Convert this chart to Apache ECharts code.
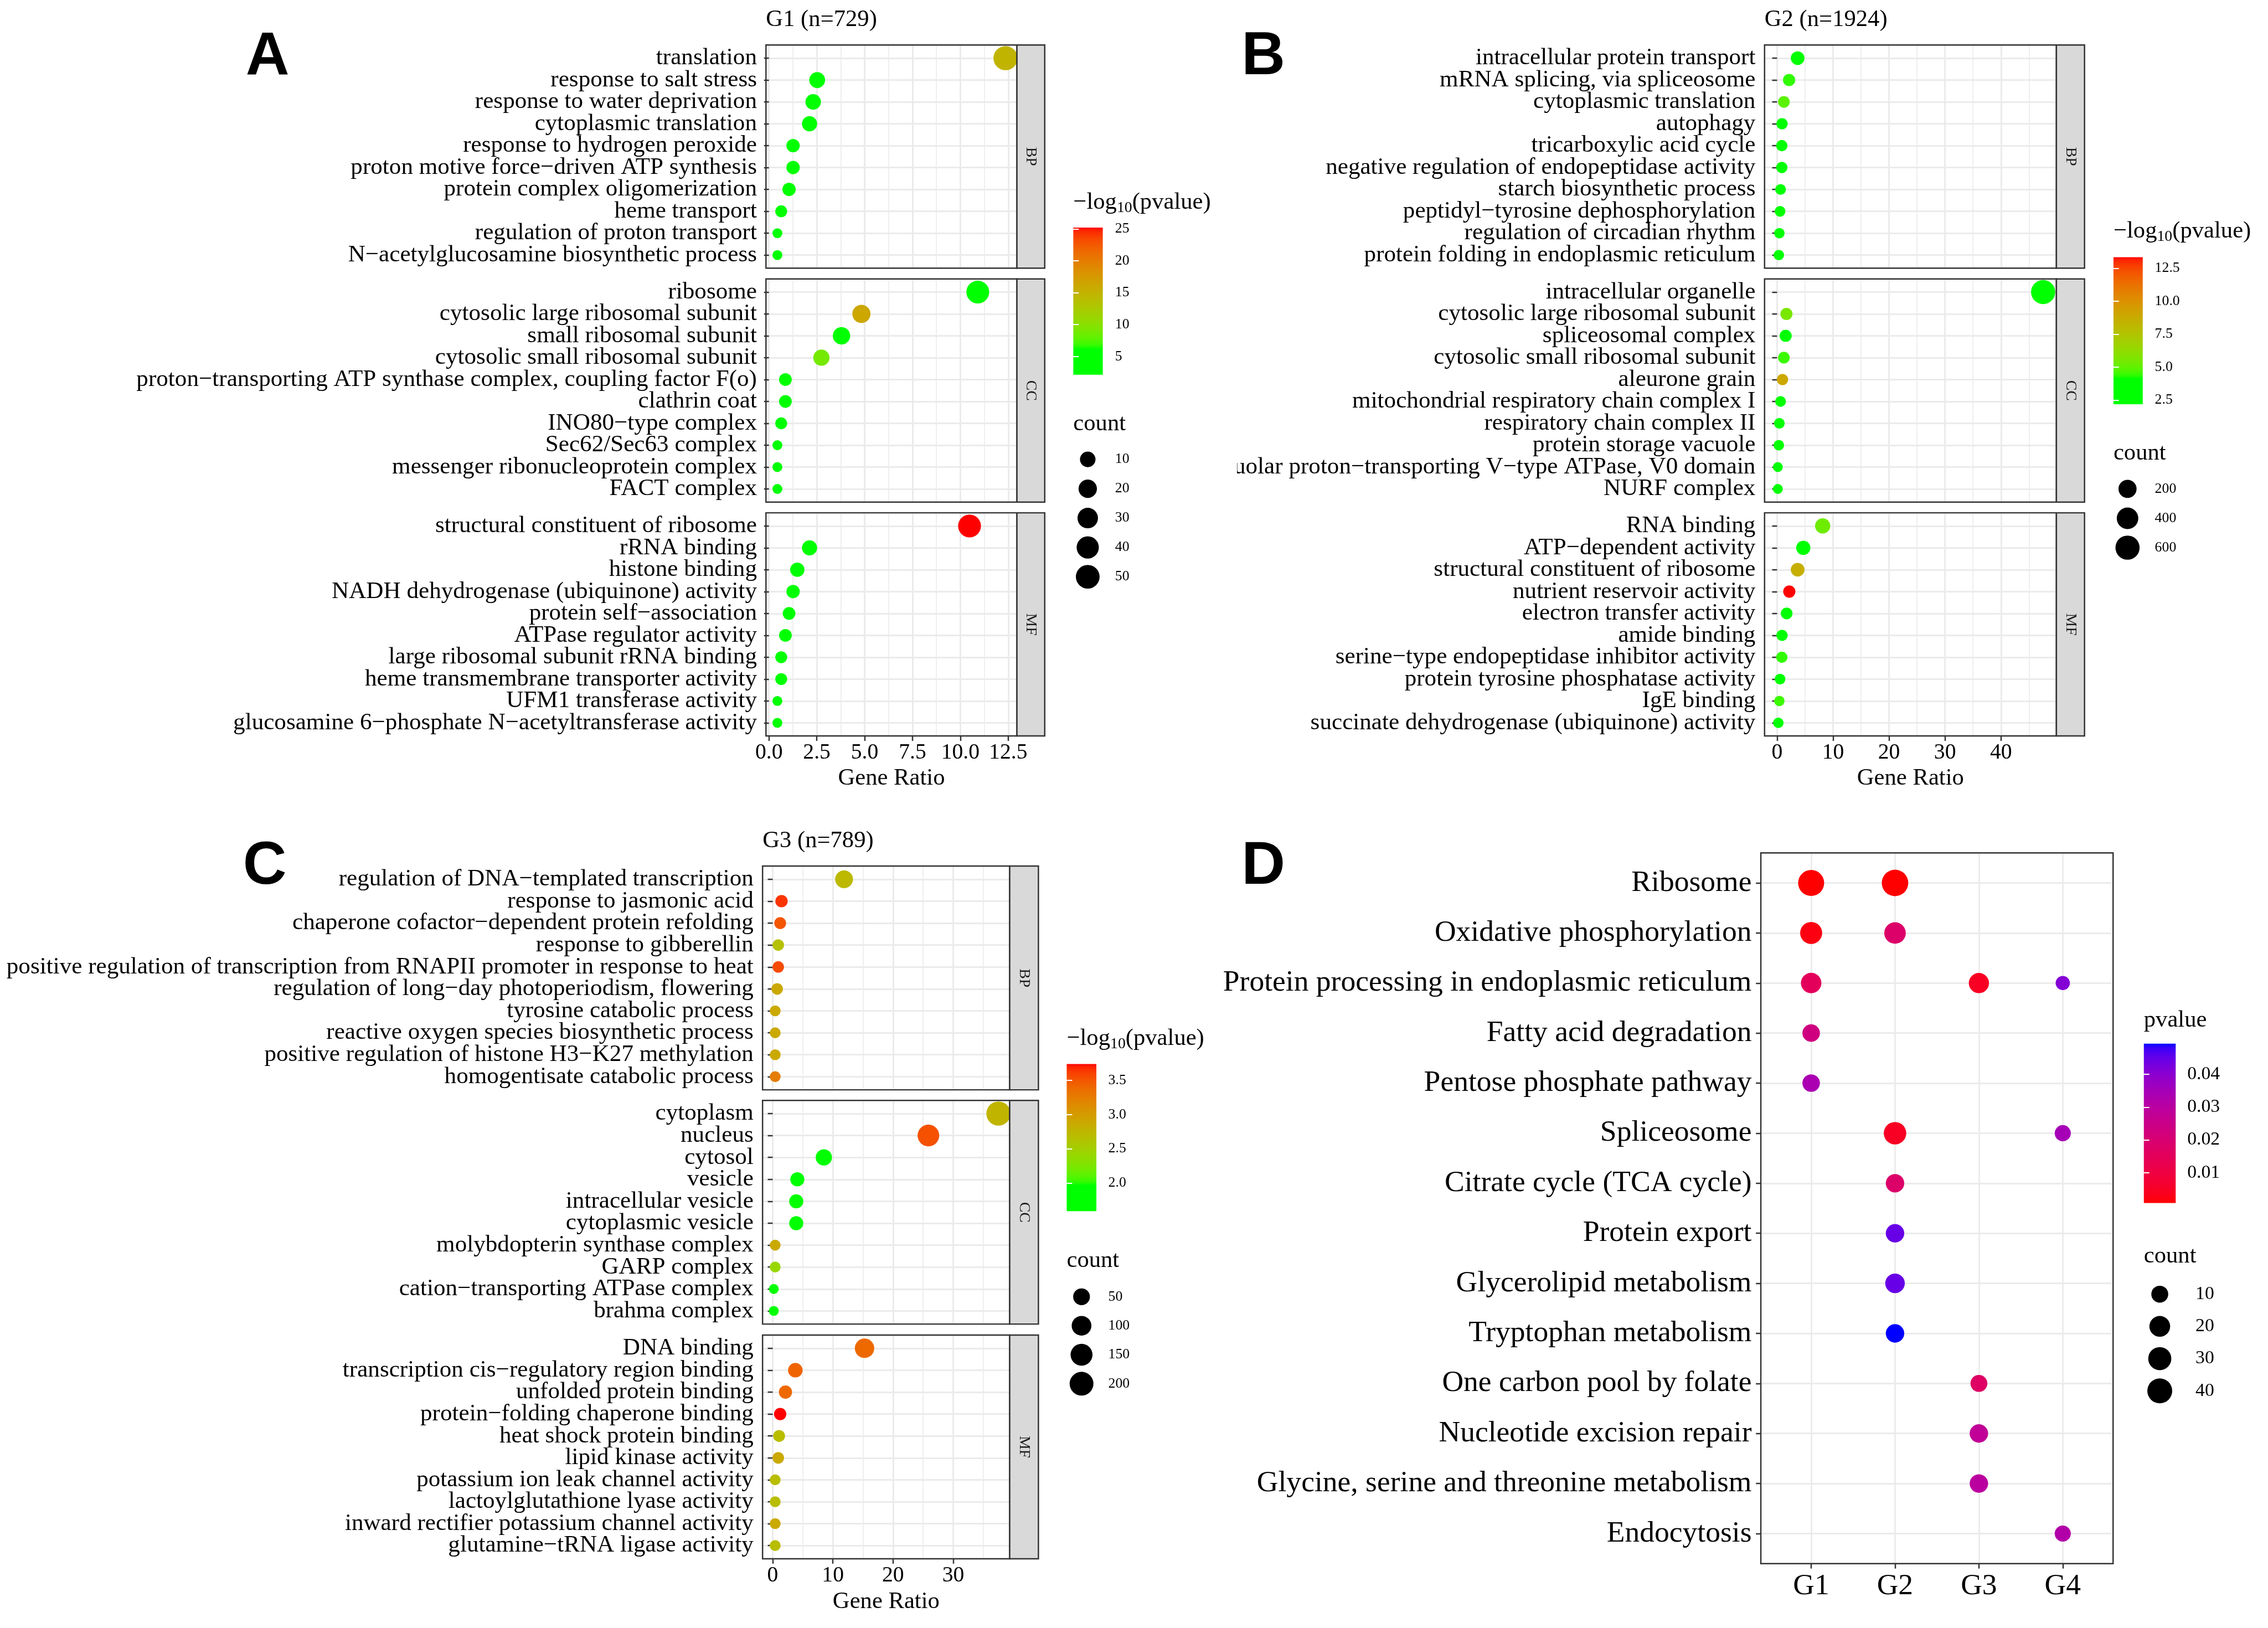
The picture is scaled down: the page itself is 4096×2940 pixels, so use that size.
<!DOCTYPE html>
<html>
<head>
<meta charset="utf-8">
<title>GO / KEGG enrichment bubble charts</title>
<script src="https://cdn.jsdelivr.net/npm/echarts@6.0.0/dist/echarts.min.js"></script>
<style>
html,body{margin:0;padding:0;background:#ffffff;}
#chart{width:4096px;height:2940px;}
</style>
</head>
<body>
<div id="chart"></div>
<script>
// ======================= DATA =======================
// ---- Panel A : G1 ----
const A_title = "G1 (n=729)";
const A_BP_terms = ["translation","response to salt stress","response to water deprivation","cytoplasmic translation","response to hydrogen peroxide","proton motive force−driven ATP synthesis","protein complex oligomerization","heme transport","regulation of proton transport","N−acetylglucosamine biosynthetic process"];
const A_BP_ratio = [12.36, 2.52, 2.31, 2.12, 1.26, 1.26, 1.05, 0.64, 0.44, 0.44];
const A_BP_count = [53, 11, 10, 9, 5, 5, 5, 3, 2, 2];
const A_BP_logp  = [14.8, 4.5, 4.2, 3.8, 3.5, 3.6, 3.2, 2.9, 2.5, 2.3];

const A_CC_terms = ["ribosome","cytosolic large ribosomal subunit","small ribosomal subunit","cytosolic small ribosomal subunit","proton−transporting ATP synthase complex, coupling factor F(o)","clathrin coat","INO80−type complex","Sec62/Sec63 complex","messenger ribonucleoprotein complex","FACT complex"];
const A_CC_ratio = [10.91, 4.83, 3.79, 2.74, 0.86, 0.86, 0.64, 0.44, 0.44, 0.44];
const A_CC_count = [44, 19, 16, 12, 4, 4, 3, 2, 2, 2];
const A_CC_logp  = [5.2, 16.1, 5.8, 8.9, 3.4, 3.3, 3.0, 2.6, 2.4, 2.2];

const A_MF_terms = ["structural constituent of ribosome","rRNA binding","histone binding","NADH dehydrogenase (ubiquinone) activity","protein self−association","ATPase regulator activity","large ribosomal subunit rRNA binding","heme transmembrane transporter activity","UFM1 transferase activity","glucosamine 6−phosphate N−acetyltransferase activity"];
const A_MF_ratio = [10.48, 2.12, 1.48, 1.26, 1.05, 0.86, 0.64, 0.64, 0.44, 0.44];
const A_MF_count = [44, 9, 7, 5, 4, 4, 3, 3, 2, 2];
const A_MF_logp  = [25.2, 4.9, 4.4, 4.0, 3.7, 3.3, 2.9, 2.7, 2.14, 2.3];

const A_color_ticks = [5, 10, 15, 20, 25];
const A_size_breaks = [10, 20, 30, 40, 50];
const A_x_ticks = [0, 2.5, 5, 7.5, 10, 12.5];

// ---- Panel B : G2 ----
const B_title = "G2 (n=1924)";
const B_BP_terms = ["intracellular protein transport","mRNA splicing, via spliceosome","cytoplasmic translation","autophagy","tricarboxylic acid cycle","negative regulation of endopeptidase activity","starch biosynthetic process","peptidyl−tyrosine dephosphorylation","regulation of circadian rhythm","protein folding in endoplasmic reticulum"];
const B_BP_ratio = [3.67, 2.14, 1.22, 0.88, 0.84, 0.84, 0.62, 0.53, 0.40, 0.31];
const B_BP_count = [48, 21, 15, 11, 11, 11, 7, 7, 6, 6];
const B_BP_logp  = [3.9, 4.4, 4.93, 3.6, 3.4, 3.3, 3.1, 2.9, 2.7, 2.6];

const B_CC_terms = ["intracellular organelle","cytosolic large ribosomal subunit","spliceosomal complex","cytosolic small ribosomal subunit","aleurone grain","mitochondrial respiratory chain complex I","respiratory chain complex II","protein storage vacuole","vacuolar proton−transporting V−type ATPase, V0 domain","NURF complex"];
const B_CC_ratio = [47.53, 1.67, 1.53, 1.22, 0.96, 0.62, 0.40, 0.31, 0.13, 0.13];
const B_CC_count = [600, 19, 19, 15, 11, 7, 7, 6, 5, 5];
const B_CC_logp  = [3.8, 5.57, 3.7, 4.5, 8.95, 3.2, 3.0, 2.8, 2.4, 2.19];

const B_MF_terms = ["RNA binding","ATP−dependent activity","structural constituent of ribosome","nutrient reservoir activity","electron transfer activity","amide binding","serine−type endopeptidase inhibitor activity","protein tyrosine phosphatase activity","IgE binding","succinate dehydrogenase (ubiquinone) activity"];
const B_MF_ratio = [8.14, 4.68, 3.67, 2.18, 1.71, 0.88, 0.84, 0.53, 0.40, 0.22];
const B_MF_count = [88, 60, 48, 21, 15, 11, 11, 7, 6, 6];
const B_MF_logp  = [5.3, 3.9, 8.59, 13.34, 3.6, 3.4, 4.4, 3.1, 4.5, 2.9];

const B_color_ticks = [2.5, 5.0, 7.5, 10.0, 12.5];
const B_size_breaks = [200, 400, 600];
const B_x_ticks = [0, 10, 20, 30, 40];

// ---- Panel C : G3 ----
const C_title = "G3 (n=789)";
const C_BP_terms = ["regulation of DNA−templated transcription","response to jasmonic acid","chaperone cofactor−dependent protein refolding","response to gibberellin","positive regulation of transcription from RNAPII promoter in response to heat","regulation of long−day photoperiodism, flowering","tyrosine catabolic process","reactive oxygen species biosynthetic process","positive regulation of histone H3−K27 methylation","homogentisate catabolic process"];
const C_BP_ratio = [11.86, 1.46, 1.24, 0.92, 0.92, 0.74, 0.41, 0.41, 0.41, 0.41];
const C_BP_count = [66, 8, 6, 5, 5, 5, 3, 3, 3, 3];
const C_BP_logp  = [2.72, 3.65, 3.51, 2.65, 3.56, 2.89, 2.88, 2.88, 2.88, 3.25];

const C_CC_terms = ["cytoplasm","nucleus","cytosol","vesicle","intracellular vesicle","cytoplasmic vesicle","molybdopterin synthase complex","GARP complex","cation−transporting ATPase complex","brahma complex"];
const C_CC_ratio = [37.52, 25.88, 8.50, 4.09, 3.91, 3.91, 0.41, 0.41, 0.18, 0.18];
const C_CC_count = [210, 143, 44, 20, 20, 20, 3, 3, 2, 2];
const C_CC_logp  = [2.77, 3.53, 1.90, 1.85, 1.80, 1.80, 2.88, 2.42, 1.59, 1.65];

const C_MF_terms = ["DNA binding","transcription cis−regulatory region binding","unfolded protein binding","protein−folding chaperone binding","heat shock protein binding","lipid kinase activity","potassium ion leak channel activity","lactoylglutathione lyase activity","inward rectifier potassium channel activity","glutamine−tRNA ligase activity"];
const C_MF_ratio = [15.26, 3.76, 2.12, 1.24, 1.06, 0.92, 0.41, 0.41, 0.41, 0.41];
const C_MF_count = [95, 24, 13, 8, 6, 5, 3, 3, 3, 3];
const C_MF_logp  = [3.39, 3.42, 3.39, 3.74, 2.68, 2.88, 2.68, 2.68, 2.88, 2.68];

const C_color_ticks = [2.0, 2.5, 3.0, 3.5];
const C_size_breaks = [50, 100, 150, 200];
const C_x_ticks = [0, 10, 20, 30];

// ---- Panel D : KEGG ----
const D_terms = ["Ribosome","Oxidative phosphorylation","Protein processing in endoplasmic reticulum","Fatty acid degradation","Pentose phosphate pathway","Spliceosome","Citrate cycle (TCA cycle)","Protein export","Glycerolipid metabolism","Tryptophan metabolism","One carbon pool by folate","Nucleotide excision repair","Glycine, serine and threonine metabolism","Endocytosis"];
const D_groups = ["G1","G2","G3","G4"];
const D_pt_term  = [0, 0, 1, 1, 2, 2, 2, 3, 4, 5, 5, 6, 7, 8, 9, 10, 11, 12, 13];
const D_pt_group = [0, 1, 0, 1, 0, 2, 3, 0, 0, 1, 3, 1, 1, 1, 1, 2, 2, 2, 3];
const D_pt_count = [47, 50, 25, 23, 19, 18, 8, 11, 11, 27, 9, 13, 13, 16, 13, 10, 13, 13, 9];
const D_pt_pvalue = [0.0008, 0.0009, 0.0023, 0.0183, 0.0154, 0.0047, 0.0411, 0.0231, 0.0338, 0.0047, 0.0348, 0.0183, 0.0445, 0.0445, 0.0493, 0.0173, 0.0280, 0.0299, 0.0318];
const D_color_ticks = [0.01, 0.02, 0.03, 0.04];
const D_size_breaks = [10, 20, 30, 40];

// ======================= HELPERS =======================
const S = 0.992;
const px = v => v * S;
const SERIF = "'Liberation Serif','Times New Roman',Times,serif";
const SANS = "'Liberation Sans',Arial,Helvetica,sans-serif";
const LABEL_FS = 43.5;

function s2l(c){c/=255;return c<=0.04045?c/12.92:Math.pow((c+0.055)/1.055,2.4);}
function l2s(v){v=Math.max(0,Math.min(1,v));const s=v<=0.0031308?12.92*v:1.055*Math.pow(v,1/2.4)-0.055;return Math.round(Math.max(0,Math.min(1,s))*255);}
function rgb2lab(c){const R=s2l(c[0]),G=s2l(c[1]),B=s2l(c[2]);
  const X=(0.4124*R+0.3576*G+0.1805*B)/0.95047,Y=0.2126*R+0.7152*G+0.0722*B,Z=(0.0193*R+0.1192*G+0.9505*B)/1.08883;
  const f=t=>t>0.008856?Math.cbrt(t):7.787*t+16/116;const fx=f(X),fy=f(Y),fz=f(Z);
  return [116*fy-16,500*(fx-fy),200*(fy-fz)];}
function lab2rgb(l){const fy=(l[0]+16)/116,fx=fy+l[1]/500,fz=fy-l[2]/200;
  const fi=t=>t>0.206893?t*t*t:(t-16/116)/7.787;
  const X=0.95047*fi(fx),Y=fi(fy),Z=1.08883*fi(fz);
  return [l2s(3.2406*X-1.5372*Y-0.4986*Z),l2s(-0.9689*X+1.8758*Y+0.0415*Z),l2s(0.0557*X-0.2040*Y+1.0570*Z)];}
function mixLab(c1,c2,t){const a=rgb2lab(c1),b=rgb2lab(c2);return lab2rgb([a[0]+(b[0]-a[0])*t,a[1]+(b[1]-a[1])*t,a[2]+(b[2]-a[2])*t]);}
const rgbStr=c=>`rgb(${c[0]},${c[1]},${c[2]})`;
const GREEN=[0,255,0],RED=[255,0,0],BLUE=[0,0,255];
const FLAT=0.18;
function goColor(t){t=Math.max(0,Math.min(1,t));if(t<=FLAT)return rgbStr(GREEN);return rgbStr(mixLab(GREEN,RED,(t-FLAT)/(1-FLAT)));}
function keggColor(t){t=Math.max(0,Math.min(1,t));return rgbStr(mixLab(RED,BLUE,t));}
function sizeScale(counts,dmin,dmax){const lo=Math.min(...counts),hi=Math.max(...counts);
  return c=>px(dmin+(dmax-dmin)*Math.sqrt(Math.max(0,Math.min(1.05,(c-lo)/(hi-lo)))));}

const grids=[],xAxes=[],yAxes=[],series=[],graphics=[];

function addText(x,y,text,o){o=o||{};
  const el={type:'text',x:px(x),y:px(y),z:50,rotation:o.rot||0,silent:true,
    style:{text:text,fill:o.color||'#000',fontSize:px(o.size||43),fontFamily:o.family||SERIF,fontWeight:o.weight||'normal',
      textAlign:o.align||'left',textVerticalAlign:o.va||'middle',align:o.align||'left',verticalAlign:o.va||'middle'}};
  if(o.rich)el.style.rich=o.rich;
  graphics.push(el);}
function addRect(x,y,w,h,o){graphics.push({type:'rect',x:px(x),y:px(y),z:o.z||40,silent:true,
  shape:{x:0,y:0,width:px(w),height:px(h)},style:{fill:o.fill||'none',stroke:o.stroke||'none',lineWidth:o.lw?px(o.lw):0}});}

function colorbar(o){
  const gi=grids.length;
  grids.push({left:px(o.x0),top:px(o.y0),width:px(o.x1-o.x0),height:px(o.y1-o.y0)});
  const xi=xAxes.length;
  xAxes.push({gridIndex:gi,type:'value',min:0,max:1,show:false});
  const yi=yAxes.length;
  const tickStyle={show:true,inside:true,length:px(10),lineStyle:{color:'#ffffff',width:px(2)},customValues:o.ticks};
  yAxes.push({gridIndex:gi,type:'value',min:o.vmin,max:o.vmax,position:'right',z:5,
    axisLine:{show:false},splitLine:{show:false},axisTick:tickStyle,
    axisLabel:{show:true,showMinLabel:true,showMaxLabel:true,customValues:o.ticks,formatter:o.fmt,margin:px(o.labelX-o.x1),fontFamily:SERIF,fontSize:px(o.fs||26),color:'#000'}});
  yAxes.push({gridIndex:gi,type:'value',min:o.vmin,max:o.vmax,position:'left',z:5,
    axisLine:{show:false},splitLine:{show:false},axisTick:tickStyle,axisLabel:{show:false}});
  const stops=[];for(let i=0;i<=80;i++){const t=i/80;stops.push({offset:t,color:o.colorFn(o.vmax-(o.vmax-o.vmin)*t)});}
  series.push({type:'custom',xAxisIndex:xi,yAxisIndex:yi,data:[[0,o.vmin]],z:2,silent:true,
    renderItem:(params,api)=>{const p0=api.coord([0,o.vmax]),p1=api.coord([1,o.vmin]);
      return {type:'rect',shape:{x:p0[0],y:p0[1],width:p1[0]-p0[0],height:p1[1]-p0[1]},
        style:{fill:{type:'linear',x:0,y:0,x2:0,y2:1,colorStops:stops}}};}});
}

function sizeLegend(o){
  const n=o.breaks.length,sp=(o.ys[n-1]-o.ys[0])/(n-1),half=40;
  const gi=grids.length;
  grids.push({left:px(o.cx-half),width:px(2*half),top:px(o.ys[0]-sp/2),height:px(sp*n)});
  const xi=xAxes.length;xAxes.push({gridIndex:gi,type:'value',min:0,max:1,show:false});
  const yi=yAxes.length;
  yAxes.push({gridIndex:gi,type:'category',inverse:true,data:o.breaks.map(String),position:'right',
    axisLine:{show:false},axisTick:{show:false},splitLine:{show:false},
    axisLabel:{interval:0,showMinLabel:true,showMaxLabel:true,margin:px(o.labelX-o.cx-half),fontFamily:SERIF,fontSize:px(o.fs||26),color:'#000'}});
  series.push({type:'scatter',xAxisIndex:xi,yAxisIndex:yi,silent:true,
    data:o.breaks.map((b,i)=>[0.5,i,b]),symbolSize:v=>o.sizeFn(v[2]),itemStyle:{color:'#000',opacity:1}});
}

// category labels are split over two co-located axes (odd / even rows) so none get dropped for overlap
function termAxes(gi,terms,fs,margin){
  const n=terms.length,all=terms.map((t,i)=>i+1);
  const odd=all.filter(v=>v%2===1),even=all.filter(v=>v%2===0);
  const base={gridIndex:gi,type:'value',inverse:true,min:0.4,max:n+0.6,position:'left',offset:0,axisLine:{show:false}};
  const lab=vals=>({showMinLabel:true,showMaxLabel:true,hideOverlap:false,customValues:vals,formatter:v=>terms[Math.round(v)-1],
        fontFamily:SERIF,fontSize:px(fs),color:'#000',margin:px(margin)});
  const yi=yAxes.length;
  yAxes.push(Object.assign({},base,{
    axisTick:{show:true,length:px(9),lineStyle:{color:'#333333',width:px(2.5)},customValues:all},
    axisLabel:lab(odd),
    splitLine:{show:true,lineStyle:{color:'#ebebeb',width:px(3)}}}));
  yAxes.push(Object.assign({},base,{
    axisTick:{show:false,customValues:even},axisLabel:lab(even),splitLine:{show:false}}));
  return yi;
}

function goPanel(P){
  const allR=[].concat(...P.facets.map(f=>f.ratio));
  const lo=Math.min(...allR),hi=Math.max(...allR),pad=(hi-lo)*0.05;
  const xmin=lo-pad,xmax=hi+pad;
  const allC=[].concat(...P.facets.map(f=>f.count));
  const size=sizeScale(allC,18,44);
  const allV=[].concat(...P.facets.map(f=>f.logp));
  const vmin=Math.min(...allV),vmax=Math.max(...allV);
  const color=v=>goColor((v-vmin)/(vmax-vmin));
  const step=P.majors[1]-P.majors[0];
  const minors=[P.majors[0]-step/2].concat(P.majors.map(m=>m+step/2)).filter(v=>v>xmin&&v<xmax);
  P.facets.forEach((f,k)=>{
    const T=P.rows[k][0],B=P.rows[k][1],last=k===P.facets.length-1;
    const gi=grids.length;
    grids.push({left:px(P.L),top:px(T),width:px(P.R-P.L),height:px(B-T)});
    const xi=xAxes.length;
    xAxes.push({gridIndex:gi,type:'value',position:'bottom',min:xmin,max:xmax,
      axisLine:{show:false},
      axisTick:{show:last,length:px(9),lineStyle:{color:'#333333',width:px(2.5)},customValues:P.majors},
      axisLabel:{show:last,showMinLabel:true,showMaxLabel:true,customValues:P.majors,formatter:P.fmt,fontFamily:SERIF,fontSize:px(40),color:'#000',margin:px(P.xLabMargin)},
      splitLine:{show:true,lineStyle:{color:'#ebebeb',width:px(3)}}});
    xAxes.push({gridIndex:gi,type:'value',position:'top',min:xmin,max:xmax,
      axisLine:{show:false},axisTick:{show:false,customValues:minors},axisLabel:{show:false,customValues:minors},
      splitLine:{show:true,lineStyle:{color:'#ebebeb',width:px(1.6)}}});
    const yi=termAxes(gi,f.terms,LABEL_FS,16.5);
    series.push({type:'scatter',xAxisIndex:xi,yAxisIndex:yi,silent:true,
      data:f.ratio.map((r,i)=>[r,i+1,f.count[i],f.logp[i]]),
      symbol:'circle',symbolSize:v=>size(v[2]),
      itemStyle:{opacity:1,color:p=>color(p.data[3])}});
    addRect(P.L,T,P.R-P.L,B-T,{stroke:'#333333',lw:2.5});
    addRect(P.R,T,P.SW,B-T,{fill:'#d9d9d9',stroke:'#333333',lw:2.5});
    addText(P.R+P.SW/2,(T+B)/2,f.strip,{size:28,color:'#1a1a1a',rot:-Math.PI/2,align:'center'});
  });
  addText(P.L,P.titleY,P.title,{size:43});
  addText((P.L+P.R)/2,P.nameY,'Gene Ratio',{size:43,align:'center'});
  const lg=P.legend;
  addText(lg.x,lg.titleY,'−log{sub|10}(pvalue)',{size:43,rich:{sub:{fontSize:px(28),fontFamily:SERIF,padding:[px(20),0,0,0]}}});
  colorbar({x0:lg.x,x1:lg.x+lg.barW,y0:lg.barY0,y1:lg.barY1,vmin,vmax,ticks:P.colorTicks,fmt:P.colorFmt,labelX:lg.labelX,colorFn:color});
  addText(lg.x,lg.countY,'count',{size:43});
  sizeLegend({cx:lg.cx,ys:lg.ys,breaks:P.sizeBreaks,labelX:lg.labelX,sizeFn:size});
}

// ======================= PANELS =======================
goPanel({L:1394.5,R:1851.4,SW:50.6,rows:[[82,488.2],[507.8,914],[933.6,1339.8]],
  facets:[{terms:A_BP_terms,ratio:A_BP_ratio,count:A_BP_count,logp:A_BP_logp,strip:'BP'},
          {terms:A_CC_terms,ratio:A_CC_ratio,count:A_CC_count,logp:A_CC_logp,strip:'CC'},
          {terms:A_MF_terms,ratio:A_MF_ratio,count:A_MF_count,logp:A_MF_logp,strip:'MF'}],
  majors:A_x_ticks,fmt:v=>v.toFixed(1),xLabMargin:10.4,nameY:1417.5,
  title:A_title,titleY:36.5,
  colorTicks:A_color_ticks,colorFmt:v=>String(v),sizeBreaks:A_size_breaks,
  legend:{x:1954,barW:53.7,barY0:414.4,barY1:682.2,labelX:2030,titleY:368.5,countY:771.5,cx:1980.3,ys:[836.3,889.9,943.5,997,1050]}});

goPanel({L:3212.5,R:3743.8,SW:51.2,rows:[[82,488.2],[507.8,914],[933.6,1339.8]],
  facets:[{terms:B_BP_terms,ratio:B_BP_ratio,count:B_BP_count,logp:B_BP_logp,strip:'BP'},
          {terms:B_CC_terms,ratio:B_CC_ratio,count:B_CC_count,logp:B_CC_logp,strip:'CC'},
          {terms:B_MF_terms,ratio:B_MF_ratio,count:B_MF_count,logp:B_MF_logp,strip:'MF'}],
  majors:B_x_ticks,fmt:v=>String(v),xLabMargin:10.4,nameY:1417.5,
  title:B_title,titleY:36.5,
  colorTicks:B_color_ticks,colorFmt:v=>v.toFixed(1),sizeBreaks:B_size_breaks,
  legend:{x:3847.7,barW:53.3,barY0:468.2,barY1:736,labelX:3923,titleY:421.3,countY:825.4,cx:3873.3,ys:[890,943.7,997]}});

goPanel({L:1388.3,R:1838.2,SW:52.3,rows:[[1576.7,1984],[2003.3,2410.4],[2430.5,2837.6]],
  facets:[{terms:C_BP_terms,ratio:C_BP_ratio,count:C_BP_count,logp:C_BP_logp,strip:'BP'},
          {terms:C_CC_terms,ratio:C_CC_ratio,count:C_CC_count,logp:C_CC_logp,strip:'CC'},
          {terms:C_MF_terms,ratio:C_MF_ratio,count:C_MF_count,logp:C_MF_logp,strip:'MF'}],
  majors:C_x_ticks,fmt:v=>String(v),xLabMargin:10.4,nameY:2915.7,
  title:C_title,titleY:1531,
  colorTicks:C_color_ticks,colorFmt:v=>v.toFixed(1),sizeBreaks:C_size_breaks,
  legend:{x:1942,barW:54,barY0:1937,barY1:2204.8,labelX:2017.7,titleY:1890.5,countY:2295.5,cx:1969,ys:[2360.7,2414.3,2466.9,2519]}});

// clip of the long label in panel B (cut by the plot edge in the original figure)
addRect(2120,826,132,50,{fill:'#ffffff',z:45});

// ---- Panel D ----
(function(){
  const L=3205.7,R=3847,T=1552.7,B=2846.5;
  const size=sizeScale(D_pt_count,25.9,48.2);
  const pmin=Math.min(...D_pt_pvalue),pmax=Math.max(...D_pt_pvalue);
  const color=p=>keggColor((p-pmin)/(pmax-pmin));
  const gi=grids.length;
  grids.push({left:px(L),top:px(T),width:px(R-L),height:px(B-T)});
  const gIdx=D_groups.map((g,i)=>i+1),tIdx=D_terms.map((t,i)=>i+1);
  const xi=xAxes.length;
  xAxes.push({gridIndex:gi,type:'value',min:0.4,max:D_groups.length+0.6,
    axisLine:{show:false},axisTick:{show:true,length:px(9),lineStyle:{color:'#333333',width:px(2.5)},customValues:gIdx},
    axisLabel:{showMinLabel:true,showMaxLabel:true,customValues:gIdx,formatter:v=>D_groups[Math.round(v)-1],fontFamily:SERIF,fontSize:px(54),color:'#000',margin:px(14)},
    splitLine:{show:true,lineStyle:{color:'#ebebeb',width:px(2.8)}}});
  const yi=yAxes.length;
  yAxes.push({gridIndex:gi,type:'value',inverse:true,min:0.4,max:D_terms.length+0.6,
    axisLine:{show:false},axisTick:{show:true,length:px(9),lineStyle:{color:'#333333',width:px(2.5)},customValues:tIdx},
    axisLabel:{showMinLabel:true,showMaxLabel:true,customValues:tIdx,formatter:v=>D_terms[Math.round(v)-1],fontFamily:SERIF,fontSize:px(54),color:'#000',margin:px(16.7)},
    splitLine:{show:true,lineStyle:{color:'#ebebeb',width:px(2.8)}}});
  series.push({type:'scatter',xAxisIndex:xi,yAxisIndex:yi,silent:true,
    data:D_pt_term.map((t,i)=>[D_pt_group[i]+1,t+1,D_pt_count[i],D_pt_pvalue[i]]),
    symbol:'circle',symbolSize:v=>size(v[2]),itemStyle:{opacity:1,color:p=>color(p.data[3])}});
  addRect(L,T,R-L,B-T,{stroke:'#333333',lw:2.5});
  addText(3903,1858,'pvalue',{size:43});
  colorbar({x0:3903,x1:3961,y0:1900,y1:2190,vmin:pmin,vmax:pmax,ticks:D_color_ticks,fmt:v=>v.toFixed(2),labelX:3982,colorFn:color,fs:34});
  addText(3903,2287,'count',{size:43});
  sizeLegend({cx:3932,ys:[2356,2414,2474,2532],breaks:D_size_breaks,labelX:3997,sizeFn:size,fs:34});
})();

// ---- panel letters ----
addText(487,105,'A',{size:110,family:SANS,weight:'bold',align:'center'});
addText(2300,105,'B',{size:110,family:SANS,weight:'bold',align:'center'});
addText(482,1579,'C',{size:110,family:SANS,weight:'bold',align:'center'});
addText(2300,1579,'D',{size:110,family:SANS,weight:'bold',align:'center'});

const chart=echarts.init(document.getElementById('chart'),null,{renderer:'canvas'});
chart.setOption({animation:false,backgroundColor:'#ffffff',
  grid:grids,xAxis:xAxes,yAxis:yAxes,series:series,graphic:{elements:graphics}});
</script>
</body>
</html>
